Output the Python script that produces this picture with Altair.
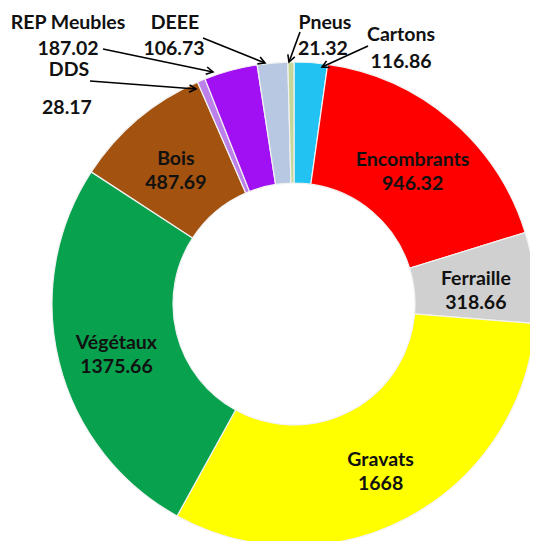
import altair as alt
import pandas as pd
import math

# ---- data ----
categories = ["Cartons", "Encombrants", "Ferraille", "Gravats", "Végétaux",
              "Bois", "DDS", "REP Meubles", "DEEE", "Pneus"]
values = [116.86, 946.32, 318.66, 1668.0, 1375.66, 487.69, 28.17, 187.02, 106.73, 21.32]
colors = ["#22C3F2", "#FF0000", "#D0D0D0", "#FFFF00", "#08A24F",
          "#A3520F", "#BB80EA", "#A010F2", "#B8C8E2", "#C4D79B"]

# ---- layout of the outside (callout) labels, in plot pixels ----
out_cats = ["Cartons", "Pneus", "DEEE", "REP Meubles", "DDS"]
name_xy = [(393, 27), (317, 15), (167, 15), (60, 15), (61, 62)]
value_xy = [(393, 54), (315, 41), (166, 41), (60, 41), (59, 100)]
arrow_from = [(360, 38), (292, 24), (195, 30), (95, 41), (82, 73)]
arrow_to = [(314, 59), (281, 54), (257, 55), (205, 64), (188, 81)]

CX, CY = 286, 296
R_IN, R_OUT = 121, 242
FONT = "Lato"
FS = 19.5

df = pd.DataFrame({"cat": categories, "val": values, "ord": list(range(len(categories)))})

base = alt.Chart(df).encode(
    theta=alt.Theta("val:Q", stack=True),
    order=alt.Order("ord:Q"),
    x=alt.value(CX),
    y=alt.value(CY),
)

# soft shadow inside the hole and below the ring
hole_shadow = alt.Chart(pd.DataFrame({"v": [1]})).mark_arc(
    innerRadius=R_IN - 4, outerRadius=R_IN, color="#d9d9d9", opacity=0.8
).encode(theta=alt.Theta("v:Q"), x=alt.value(CX), y=alt.value(CY))

arcs = base.mark_arc(innerRadius=R_IN, outerRadius=R_OUT, stroke="#f2f2f2",
                     strokeWidth=1.2).encode(
    color=alt.Color("cat:N", scale=alt.Scale(domain=categories, range=colors), legend=None)
)

inside = base.transform_calculate(
    lab="datum.val > 250 ? datum.cat + '\\n' + toString(datum.val) : ''"
).mark_text(radius=183, dy=-5, font=FONT, fontSize=FS, fontWeight="bold", lineHeight=24,
            lineBreak="\n", color="#111111").encode(text="lab:N")

val_of = dict(zip(categories, values))


def fmt(v):
    s = repr(float(v))
    return s[:-2] if s.endswith(".0") else s


rows = []
for c, (nx, ny), (vx, vy) in zip(out_cats, name_xy, value_xy):
    rows.append({"t": c, "x": nx, "y": ny})
    rows.append({"t": fmt(val_of[c]), "x": vx, "y": vy})
tdf = pd.DataFrame(rows)

outside = alt.Chart(tdf).mark_text(font=FONT, fontSize=FS, fontWeight="bold",
                                   color="#111111").encode(
    x=alt.X("x:Q", scale=None, axis=None),
    y=alt.Y("y:Q", scale=None, axis=None),
    text="t:N",
)

arows = []
for c, (x1, y1), (x2, y2) in zip(out_cats, arrow_from, arrow_to):
    ang = (math.degrees(math.atan2(y2 - y1, x2 - x1)) + 360) % 360
    arows.append({"cat": c, "x": x1, "y": y1, "x2": x2, "y2": y2, "ang": ang})
adf = pd.DataFrame(arows)

lines = alt.Chart(adf).mark_rule(color="black", strokeWidth=1.6).encode(
    x=alt.X("x:Q", scale=None, axis=None),
    y=alt.Y("y:Q", scale=None, axis=None),
    x2="x2:Q",
    y2="y2:Q",
)
heads = alt.Chart(adf).mark_point(shape="M -1 -0.55 L 0 0 L -1 0.55", filled=False,
                                  stroke="black", strokeWidth=1.6, size=180,
                                  opacity=1).encode(
    x=alt.X("x2:Q", scale=None, axis=None),
    y=alt.Y("y2:Q", scale=None, axis=None),
    angle=alt.Angle("ang:Q", scale=None),
)

chart = alt.layer(hole_shadow, arcs, inside, outside, lines, heads).properties(
    width=522, height=533, autosize=alt.AutoSizeParams(type="none"), padding=0
).configure_view(stroke=None)

chart.save("out.html", embed_options={"renderer": "svg", "actions": False})
